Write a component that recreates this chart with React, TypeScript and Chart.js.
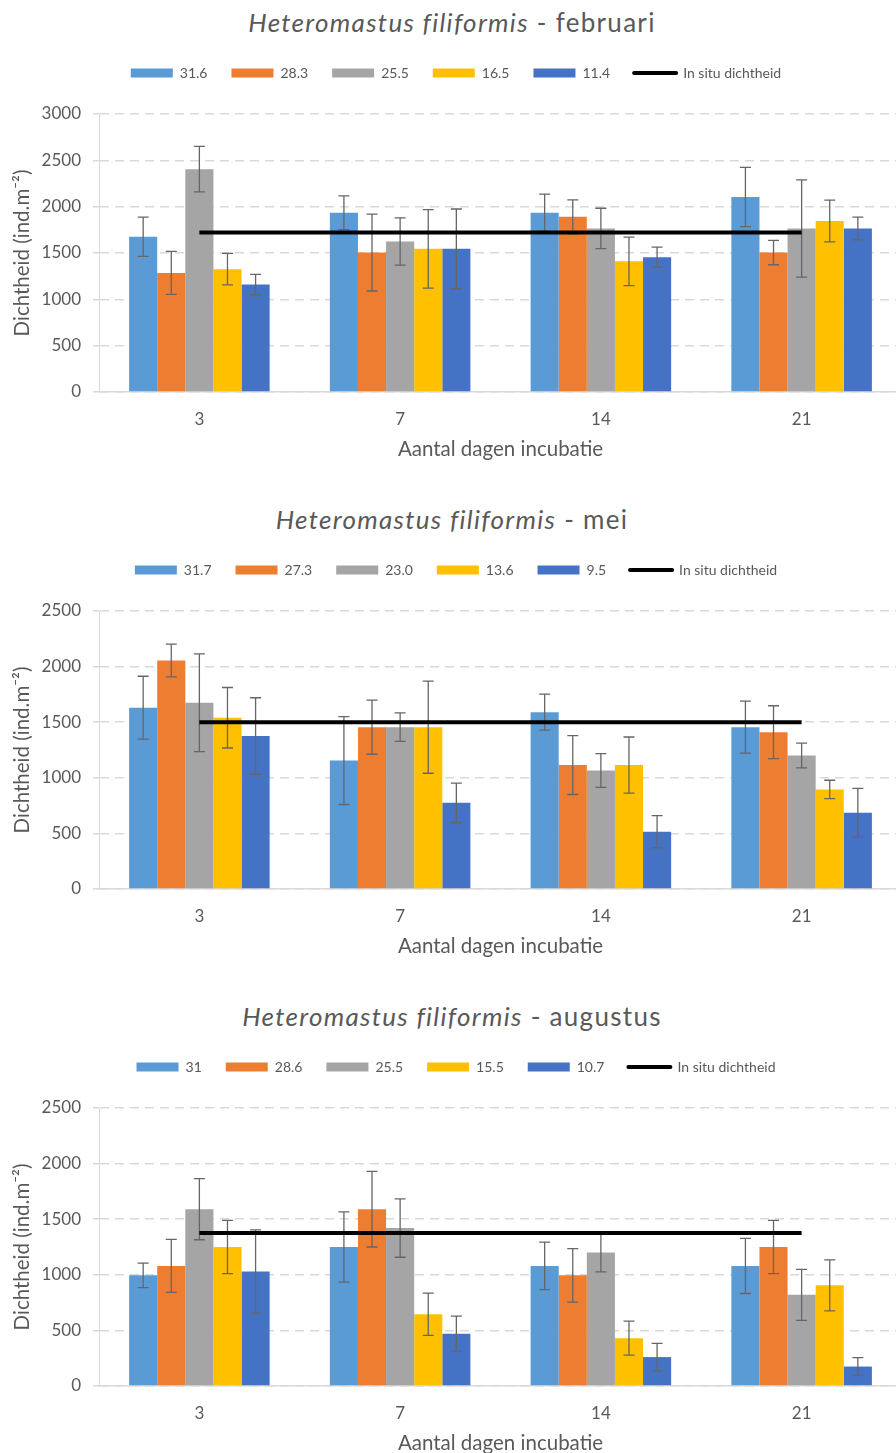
import React, { useEffect, useRef } from 'react';
import { Chart, registerables } from 'chart.js';

Chart.register(...registerables);

const DAYS = ['3', '7', '14', '21'];
const BAR_COLORS = ['#5B9BD5', '#ED7D31', '#A5A5A5', '#FFC000', '#4472C4'];
const LINE_LABEL = 'In situ dichtheid';
const Y_TITLE = 'Dichtheid (ind.m⁻²)';
const X_TITLE = 'Aantal dagen incubatie';
const SPECIES = 'Heteromastus filiformis';

// februari
const FEB_SERIES = ['31.6', '28.3', '25.5', '16.5', '11.4'];
const FEB_MEANS = [
  [1675, 1935, 1935, 2105],
  [1285, 1505, 1890, 1505],
  [2405, 1625, 1765, 1765],
  [1325, 1545, 1410, 1845],
  [1160, 1545, 1455, 1765],
];
const FEB_ERRORS = [
  [212, 182, 200, 320],
  [232, 415, 184, 132],
  [245, 255, 218, 525],
  [170, 423, 262, 225],
  [110, 430, 108, 122],
];
const FEB_INSITU = [1720, 1720, 1720, 1720];
const FEB_YMAX = 3000;

// mei
const MEI_SERIES = ['31.7', '27.3', '23.0', '13.6', '9.5'];
const MEI_MEANS = [
  [1630, 1155, 1590, 1455],
  [2055, 1455, 1115, 1410],
  [1675, 1455, 1065, 1200],
  [1540, 1455, 1115, 895],
  [1375, 775, 515, 685],
];
const MEI_ERRORS = [
  [283, 395, 162, 234],
  [148, 243, 265, 238],
  [439, 128, 152, 111],
  [272, 414, 252, 83],
  [345, 177, 145, 220],
];
const MEI_INSITU = [1500, 1500, 1500, 1500];
const MEI_YMAX = 2500;

// augustus
const AUG_SERIES = ['31', '28.6', '25.5', '15.5', '10.7'];
const AUG_MEANS = [
  [995, 1250, 1080, 1080],
  [1080, 1590, 995, 1250],
  [1590, 1420, 1200, 820],
  [1250, 645, 430, 905],
  [1030, 470, 260, 175],
];
const AUG_ERRORS = [
  [110, 316, 214, 248],
  [238, 340, 240, 240],
  [275, 262, 174, 229],
  [240, 190, 153, 229],
  [374, 159, 124, 80],
];
const AUG_INSITU = [1375, 1375, 1375, 1375];
const AUG_YMAX = 2500;

const FONT = 'Lato, Carlito, Calibri, "Open Sans", sans-serif';
const TEXT_COLOR = '#595959';
const GRID_COLOR = '#D9D9D9';
const CANVAS_W = 910;
const CANVAS_H = 430;
const BLOCK_H = 497;
const LEGEND_GAP = 24;

const errorBarPlugin = {
  id: 'errorBars',
  afterDatasetDraw(chart: any, args: any) {
    const ds = chart.data.datasets[args.index];
    if (!ds.errors) return;
    const y = chart.scales.y;
    const ctx = chart.ctx;
    ctx.save();
    ctx.strokeStyle = '#666666';
    ctx.lineWidth = 1.3;
    args.meta.data.forEach((el: any, i: number) => {
      const v = ds.data[i];
      const e = ds.errors[i];
      const x = el.x;
      const yt = y.getPixelForValue(v + e);
      const yb = y.getPixelForValue(v - e);
      ctx.beginPath();
      ctx.moveTo(x, yt);
      ctx.lineTo(x, yb);
      ctx.moveTo(x - 5.5, yt);
      ctx.lineTo(x + 5.5, yt);
      ctx.moveTo(x - 5.5, yb);
      ctx.lineTo(x + 5.5, yb);
      ctx.stroke();
    });
    ctx.restore();
  },
};

const legendGapPlugin = {
  id: 'legendGap',
  beforeLayout(chart: any) {
    const lg = chart.legend;
    if (lg && !lg.__gapPatched) {
      const fit = lg.fit.bind(lg);
      lg.fit = function () {
        fit();
        this.height += LEGEND_GAP;
      };
      lg.__gapPatched = true;
    }
  },
};

type PanelProps = {
  month: string;
  series: string[];
  means: number[][];
  errors: number[][];
  insitu: number[];
  ymax: number;
  top: number;
};

function Panel({ month, series, means, errors, insitu, ymax, top }: PanelProps) {
  const ref = useRef<HTMLCanvasElement | null>(null);

  useEffect(() => {
    if (!ref.current) return;
    const datasets: any[] = series.map((name, i) => ({
      type: 'bar',
      label: name,
      data: means[i],
      errors: errors[i],
      backgroundColor: BAR_COLORS[i],
      borderWidth: 0,
      categoryPercentage: 0.7,
      barPercentage: 1.0,
      order: 1,
    }));
    datasets.push({
      type: 'line',
      label: LINE_LABEL,
      data: insitu,
      borderColor: '#000000',
      backgroundColor: '#000000',
      borderWidth: 4,
      pointRadius: 0,
      fill: false,
      order: 0,
    });

    const chart = new Chart(ref.current, {
      type: 'bar',
      data: { labels: DAYS, datasets },
      options: {
        responsive: false,
        animation: false,
        events: [],
        layout: { padding: { top: 2, left: 10, right: 8, bottom: 0 } },
        plugins: {
          tooltip: { enabled: false },
          title: { display: false },
          legend: {
            display: true,
            position: 'top',
            labels: {
              usePointStyle: true,
              pointStyleWidth: 42,
              boxHeight: 9,
              padding: 24,
              color: TEXT_COLOR,
              font: { family: FONT, size: 14 },
              generateLabels: () => {
                const items: any[] = series.map((name, i) => ({
                  text: name,
                  fillStyle: BAR_COLORS[i],
                  strokeStyle: BAR_COLORS[i],
                  lineWidth: 0,
                  pointStyle: 'rect',
                  hidden: false,
                  datasetIndex: i,
                  fontColor: TEXT_COLOR,
                }));
                items.push({
                  text: LINE_LABEL,
                  fillStyle: '#000000',
                  strokeStyle: '#000000',
                  lineWidth: 4,
                  lineCap: 'round',
                  pointStyle: 'line',
                  hidden: false,
                  datasetIndex: series.length,
                  fontColor: TEXT_COLOR,
                });
                return items;
              },
            },
          },
        },
        scales: {
          x: {
            grid: { display: false },
            border: { display: true, color: GRID_COLOR, width: 1.5 },
            ticks: { color: TEXT_COLOR, font: { family: FONT, size: 17 }, padding: 9 },
            title: {
              display: true,
              text: X_TITLE,
              color: TEXT_COLOR,
              font: { family: FONT, size: 20.5 },
              padding: { top: 0, bottom: 8 },
            },
            afterFit: (s: any) => {
              s.height = 78;
            },
          },
          y: {
            min: 0,
            max: ymax,
            ticks: {
              stepSize: 500,
              color: TEXT_COLOR,
              font: { family: FONT, size: 17 },
              padding: 12,
              callback: (v: any) => String(v),
            },
            grid: {
              display: true,
              color: GRID_COLOR,
              lineWidth: 1.5,
              drawTicks: true,
              tickLength: 6,
              tickColor: GRID_COLOR,
            },
            border: { display: true, color: GRID_COLOR, width: 1, dash: [9, 6] },
            title: {
              display: true,
              text: Y_TITLE,
              color: TEXT_COLOR,
              font: { family: FONT, size: 20.5 },
              padding: { top: 0, bottom: 0 },
            },
            afterFit: (s: any) => {
              s.width = 89;
            },
          },
        },
      } as any,
      plugins: [errorBarPlugin, legendGapPlugin],
    });
    return () => chart.destroy();
  }, [series, means, errors, insitu, ymax]);

  return (
    <>
      <div
        style={{
          position: 'absolute',
          left: 0,
          top,
          width: 904,
          height: 44,
          lineHeight: '44px',
          textAlign: 'center',
          fontFamily: FONT,
          fontSize: 26,
          letterSpacing: 1.3,
          color: TEXT_COLOR,
          whiteSpace: 'nowrap',
        }}
      >
        <span style={{ fontStyle: 'italic' }}>{SPECIES}</span>
        {' - ' + month}
      </div>
      <canvas
        ref={ref}
        width={CANVAS_W}
        height={CANVAS_H}
        style={{ position: 'absolute', left: 0, top: top + 40, width: CANVAS_W, height: CANVAS_H }}
      />
    </>
  );
}

export default function App() {
  return (
    <div
      style={{
        position: 'absolute',
        left: 0,
        top: 0,
        width: 896,
        height: 1453,
        overflow: 'hidden',
        background: '#ffffff',
      }}
    >
      <Panel month="februari" series={FEB_SERIES} means={FEB_MEANS} errors={FEB_ERRORS} insitu={FEB_INSITU} ymax={FEB_YMAX} top={0} />
      <Panel month="mei" series={MEI_SERIES} means={MEI_MEANS} errors={MEI_ERRORS} insitu={MEI_INSITU} ymax={MEI_YMAX} top={BLOCK_H} />
      <Panel month="augustus" series={AUG_SERIES} means={AUG_MEANS} errors={AUG_ERRORS} insitu={AUG_INSITU} ymax={AUG_YMAX} top={BLOCK_H * 2} />
    </div>
  );
}
